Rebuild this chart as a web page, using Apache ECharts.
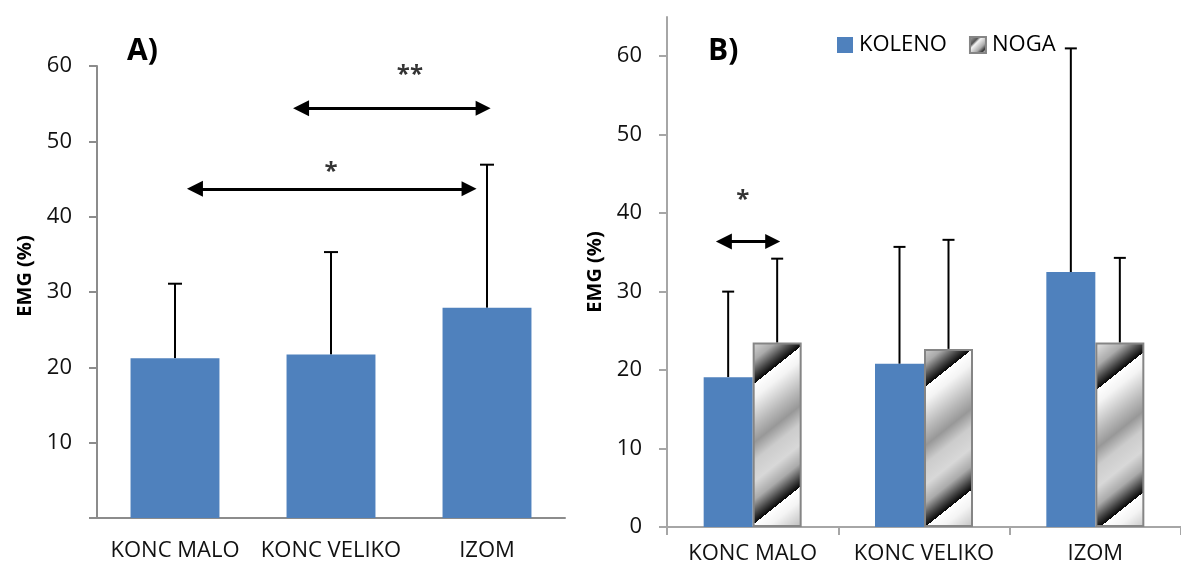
<!DOCTYPE html>
<html>
<head>
<meta charset="utf-8">
<script src="https://cdn.jsdelivr.net/npm/echarts@6/dist/echarts.min.js"></script>
<style>
  html, body { margin: 0; padding: 0; background: #fff; }
  #chart { width: 1181px; height: 570px; }
</style>
</head>
<body>
<div id="chart"></div>
<script>
// categories
const categories = ['KONC MALO', 'KONC VELIKO', 'IZOM']

// panel A: mean and SD
const aMean = [21.2, 21.7, 27.9]
const aSd = [9.9, 13.6, 19.0]

// panel B: KOLENO / NOGA mean and SD
const kolenoMean = [19.1, 20.8, 32.5]
const kolenoSd = [10.9, 14.9, 28.5]
const nogaMean = [23.5, 22.7, 23.5]
const nogaSd = [10.7, 13.9, 10.8]

// tick labels
const aTicks = [0, 10, 20, 30, 40, 50, 60]
const aLabels = [10, 20, 30, 40, 50, 60]
const bTicks = [0, 10, 20, 30, 40, 50, 60]

// significance arrows: [xStart, xEnd, y] in category units / value
const aArrows = [[0.808, 1.975, 54.4], [0.128, 1.885, 43.7]]
const aStars = [[1.506, 58.8, '**'], [1.0, 45.9, '*']]
const bArrows = [[-0.168, 0.117, 36.4]]
const bStars = [[-0.057, 41.7, '*']]

const FONT = 'Open Sans'
const BLUE = '#4F81BD'

// diagonal chrome-like stripe fill for NOGA
function makeStripes() {
  const W = 175, H = 140
  const c = document.createElement('canvas')
  c.width = W; c.height = H
  const ctx = c.getContext('2d')
  const img = ctx.createImageData(W, H)
  const stops = [[0, 255], [0.1, 244], [0.3, 185], [0.42, 152], [0.55, 204], [0.7, 216], [0.83, 170], [0.93, 70], [1, 5]]
  for (let y = 0; y < H; y++) {
    for (let x = 0; x < W; x++) {
      let t = (((0.8 * x + y - 6.2) % 140) + 140) % 140 / 140
      let v = 0
      for (let i = 1; i < stops.length; i++) {
        if (t <= stops[i][0]) {
          const [t0, v0] = stops[i - 1], [t1, v1] = stops[i]
          v = v0 + (v1 - v0) * (t - t0) / (t1 - t0)
          break
        }
      }
      const k = (y * W + x) * 4
      img.data[k] = img.data[k + 1] = img.data[k + 2] = Math.round(v)
      img.data[k + 3] = 255
    }
  }
  ctx.putImageData(img, 0, 0)
  return c
}

function errorBar(capW, offsetRatio) {
  return function (params, api) {
    const idx = api.value(0)
    const p0 = api.coord([idx, api.value(1)])
    const p1 = api.coord([idx, api.value(1) + api.value(2)])
    const off = api.size([1, 0])[0] * offsetRatio
    const x = p0[0] + off
    const style = { stroke: '#000', lineWidth: 2 }
    return {
      type: 'group',
      children: [
        { type: 'line', shape: { x1: x, y1: p0[1], x2: x, y2: p1[1] }, style },
        { type: 'line', shape: { x1: x - capW / 2, y1: p1[1], x2: x + capW / 2, y2: p1[1] }, style }
      ]
    }
  }
}

const arrowSeries = (arrows, xIdx, yIdx) => ({
  type: 'lines',
  coordinateSystem: 'cartesian2d',
  xAxisIndex: xIdx,
  yAxisIndex: yIdx,
  symbol: ['triangle', 'triangle'],
  symbolSize: [16, 15],
  lineStyle: { color: '#000', width: 3, opacity: 1 },
  data: arrows.map(a => ({ coords: [[a[0], a[2]], [a[1], a[2]]] })),
  z: 5
})

const starSeries = (stars, xIdx, yIdx) => ({
  type: 'scatter',
  xAxisIndex: xIdx,
  yAxisIndex: yIdx,
  symbolSize: 1,
  itemStyle: { color: 'transparent' },
  label: {
    show: true, position: 'inside', formatter: p => p.data[2],
    color: '#000', fontFamily: FONT, fontWeight: 'bold', fontSize: 24
  },
  data: stars
})

const yAxisBase = {
  type: 'value',
  min: 0,
  interval: 10,
  splitLine: { show: false },
  axisLine: { show: true, onZero: false, lineStyle: { color: '#8c8c8c', width: 2 } },
  axisTick: { show: true, length: 8, lineStyle: { color: '#8c8c8c', width: 2 } },
  axisLabel: { color: '#111', fontFamily: FONT, fontSize: 22, margin: 25 },
  name: 'EMG (%)',
  nameLocation: 'middle',
  nameRotate: 90,
  nameTextStyle: { color: '#000', fontFamily: FONT, fontWeight: 'bold', fontSize: 20 }
}

const chart = echarts.init(document.getElementById('chart'))
const stripes = { image: makeStripes(), repeat: 'repeat' }

// small legend swatch for NOGA
const nogaIcon = new echarts.graphic.LinearGradient(0, 0, 1, 1, [
  { offset: 0, color: '#bbb' },
  { offset: 0.3, color: '#555' },
  { offset: 0.4, color: '#f4f4f4' },
  { offset: 0.65, color: '#aaa' },
  { offset: 0.8, color: '#333' },
  { offset: 0.9, color: '#eee' },
  { offset: 1, color: '#ddd' }
])

chart.setOption({
  animation: false,
  backgroundColor: '#fff',
  grid: [
    { left: 97, top: 66, width: 468, height: 452 },
    { left: 667, top: 17, width: 525, height: 510 }
  ],
  legend: {
    left: 837, top: 34, padding: 0,
    icon: 'rect', itemWidth: 16, itemHeight: 16, itemGap: 22,
    textStyle: { fontFamily: FONT, fontSize: 22, color: '#000', padding: [0, 0, 0, 1] },
    data: ['KOLENO', { name: 'NOGA', itemStyle: { color: nogaIcon, borderColor: '#858585', borderWidth: 2 } }]
  },
  graphic: [
    { type: 'text', left: 127, top: 36, style: { text: 'A)', font: 'bold 30px "Open Sans"', fill: '#000' } },
    { type: 'text', left: 708, top: 36, style: { text: 'B)', font: 'bold 30px "Open Sans"', fill: '#000' } }
  ],
  xAxis: [
    {
      type: 'category', gridIndex: 0, data: categories,
      axisLine: { onZero: false, lineStyle: { color: '#8c8c8c', width: 2 } },
      axisTick: { show: false },
      axisLabel: { interval: 0, color: '#111', fontFamily: FONT, fontSize: 22, margin: 22 }
    },
    {
      type: 'category', gridIndex: 1, data: categories,
      axisLine: { onZero: false, lineStyle: { color: '#a6a6a6', width: 2 } },
      axisTick: { show: true, length: 8, lineStyle: { color: '#a6a6a6', width: 2 } },
      axisLabel: { interval: 0, color: '#111', fontFamily: FONT, fontSize: 22, margin: 16 }
    },
    { type: 'value', gridIndex: 0, min: -0.5, max: 2.5, show: false },
    { type: 'value', gridIndex: 1, min: -0.5, max: 2.5, show: false }
  ],
  yAxis: [
    Object.assign({}, yAxisBase, {
      gridIndex: 0, max: 60, nameGap: 62,
      nameTextStyle: Object.assign({}, yAxisBase.nameTextStyle, { padding: [0, 0, 0, 32] }),
      axisTick: Object.assign({}, yAxisBase.axisTick, { customValues: aTicks }),
      axisLabel: Object.assign({}, yAxisBase.axisLabel, { customValues: aLabels })
    }),
    Object.assign({}, yAxisBase, {
      gridIndex: 1, max: 65, nameGap: 62,
      axisLine: { show: true, onZero: false, lineStyle: { color: '#a6a6a6', width: 2 } },
      axisTick: { show: true, length: 8, lineStyle: { color: '#a6a6a6', width: 2 }, customValues: bTicks },
      axisLabel: Object.assign({}, yAxisBase.axisLabel, { customValues: bTicks })
    })
  ],
  series: [
    {
      type: 'custom', xAxisIndex: 0, yAxisIndex: 0, z: 1,
      renderItem: errorBar(14, 0),
      data: aMean.map((m, i) => [i, m, aSd[i]])
    },
    {
      type: 'bar', xAxisIndex: 0, yAxisIndex: 0, z: 2,
      barWidth: '57%',
      itemStyle: { color: BLUE },
      data: aMean
    },
    arrowSeries(aArrows, 2, 0),
    starSeries(aStars, 2, 0),

    {
      name: 'KOLENO', type: 'bar', xAxisIndex: 1, yAxisIndex: 1, z: 2,
      barWidth: '28.6%', barGap: '0%',
      itemStyle: { color: BLUE },
      data: kolenoMean
    },
    {
      name: 'NOGA', type: 'bar', xAxisIndex: 1, yAxisIndex: 1, z: 2,
      barWidth: '28.6%', barGap: '0%',
      itemStyle: { color: stripes, borderColor: '#858585', borderWidth: 2 },
      data: nogaMean
    },
    {
      type: 'custom', xAxisIndex: 1, yAxisIndex: 1, z: 1,
      renderItem: errorBar(12, -0.143),
      data: kolenoMean.map((m, i) => [i, m, kolenoSd[i]])
    },
    {
      type: 'custom', xAxisIndex: 1, yAxisIndex: 1, z: 1,
      renderItem: errorBar(12, 0.143),
      data: nogaMean.map((m, i) => [i, m, nogaSd[i]])
    },
    arrowSeries(bArrows, 3, 1),
    starSeries(bStars, 3, 1)
  ]
})
</script>
</body>
</html>
